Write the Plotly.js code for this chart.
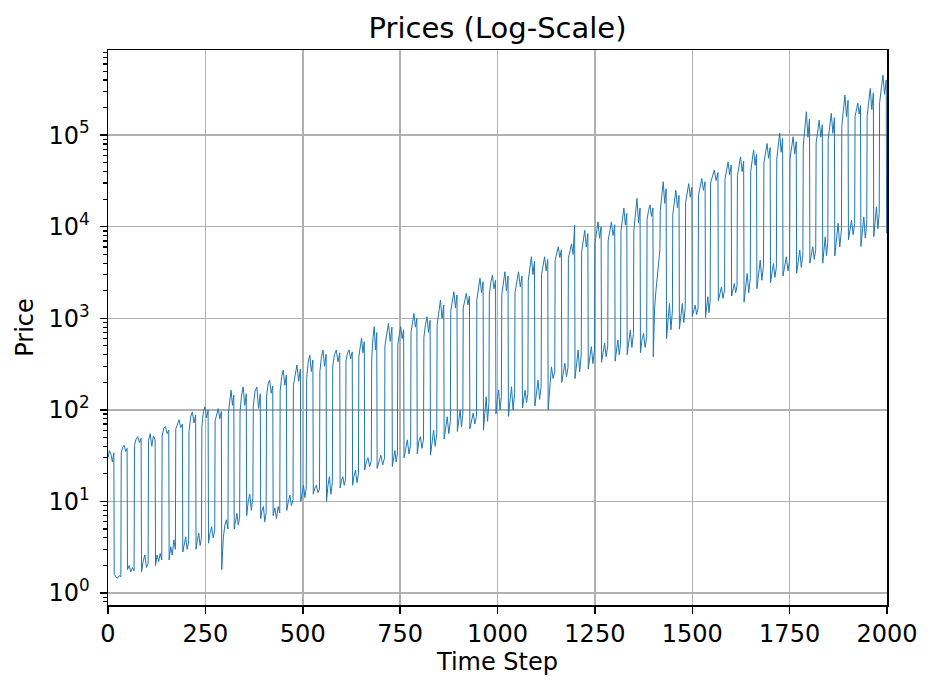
<!DOCTYPE html>
<html>
<head>
<meta charset="utf-8">
<script src="https://cdn.plot.ly/plotly-3.0.1.min.js"></script>
<style>
  html, body { margin: 0; padding: 0; background: #ffffff; }
  #chart { width: 935px; height: 691px; }
</style>
</head>
<body>
<div id="chart"></div>
<script>
// Time steps at which the price jumps into the high regime
const riseStep = [0, 34, 68, 104, 139, 174, 208, 241, 275, 309, 339, 373, 407, 442, 476, 510, 544, 577, 611, 644,
  677, 711, 744, 778, 811, 845, 880, 912, 947, 979, 1011, 1045, 1079, 1113, 1148, 1182, 1216, 1250, 1284, 1317,
  1350, 1384, 1418, 1450, 1483, 1516, 1547, 1584, 1616, 1650, 1684, 1717, 1751, 1785, 1818, 1849, 1884, 1918, 1949, 1981];

// Time steps at which the price falls back into the low regime
const dropStep = [16, 50, 86, 122, 157, 192, 226, 258, 292, 324, 356, 392, 424, 459, 495, 527, 561, 596, 628, 659,
  691, 730, 760, 794, 828, 863, 897, 929, 964, 996, 1028, 1064, 1096, 1130, 1165, 1199, 1233, 1267, 1302, 1333,
  1367, 1400, 1434, 1467, 1500, 1534, 1567, 1601, 1633, 1666, 1701, 1733, 1768, 1802, 1835, 1866, 1901, 1933, 1966, 1999];

// Prices sampled across each high-regime stretch
const highPrice = [
  [30, 36, 33, 27, 34], [34, 39, 41, 35, 38], [41, 48, 51, 44, 49], [46, 55, 40, 52, 47],
  [52, 63, 66, 55, 60], [62, 72, 78, 64, 70], [58, 84, 95, 72, 88], [66, 96, 108, 82, 100],
  [76, 92, 103, 80, 96], [92, 125, 164, 112, 145], [95, 145, 178, 112, 150], [110, 160, 178, 104, 150],
  [140, 192, 212, 152, 182], [160, 232, 271, 185, 240], [185, 252, 309, 205, 280], [220, 330, 398, 262, 350],
  [262, 380, 450, 300, 405], [300, 400, 450, 335, 420], [340, 420, 452, 362, 430], [380, 505, 610, 420, 555],
  [360, 610, 810, 450, 700], [500, 700, 880, 560, 800], [520, 700, 810, 600, 750], [700, 950, 1130, 800, 1000],
  [620, 850, 1040, 700, 950], [850, 1200, 1580, 1000, 1400], [1200, 1600, 1950, 1300, 1800], [1300, 1600, 1870, 1400, 1750],
  [1600, 2200, 2740, 1900, 2500], [1800, 2500, 2960, 2100, 2600], [1800, 2600, 3220, 2000, 2900], [1900, 2600, 3220, 2200, 2900],
  [2600, 3800, 4700, 3000, 4200], [3000, 4000, 4700, 3300, 4400], [4300, 5200, 6040, 4600, 5600], [4500, 5500, 6500, 5000, 10400],
  [5300, 7500, 9150, 6000, 8400], [6500, 9000, 11300, 7500, 10000], [7000, 9500, 11300, 8000, 10500], [9000, 12500, 16000, 10500, 14000],
  [9000, 14000, 20400, 11000, 16000], [12000, 15000, 17300, 13000, 16000], [15000, 22000, 31000, 18000, 26000], [13500, 19000, 25000, 16000, 22000],
  [18500, 24000, 29600, 21000, 27000], [22000, 28000, 33600, 25000, 31000], [30000, 36000, 41500, 32000, 39000], [33000, 42000, 51000, 37000, 47000],
  [36000, 46000, 58000, 40000, 52000], [40000, 55000, 69000, 47000, 62000], [50000, 65000, 81000, 56000, 73000], [55000, 80000, 105000, 65000, 92000],
  [55000, 75000, 96000, 62000, 85000], [76000, 120000, 180000, 95000, 150000], [82000, 110000, 146000, 95000, 130000], [90000, 130000, 173000, 105000, 155000],
  [125000, 200000, 274000, 160000, 240000], [160000, 190000, 223000, 170000, 210000], [160000, 240000, 323000, 190000, 290000], [225000, 330000, 452000, 280000, 400000]
];

// Prices sampled across each low-regime stretch
const lowPrice = [
  [1.6, 1.5, 1.45, 1.55, 1.5], [1.8, 2.0, 1.7, 1.9, 1.75], [1.7, 2.2, 2.6, 1.9, 2.1], [2.0, 2.6, 2.2, 2.7, 2.3],
  [2.3, 3.2, 2.6, 3.8, 3.0], [2.8, 3.5, 4.1, 3.0, 3.6], [3.0, 3.8, 4.5, 3.3, 4.0], [3.5, 4.5, 5.3, 4.0, 4.8],
  [1.8, 4.0, 5.5, 6.3, 5.0], [5.0, 6.5, 7.4, 5.5, 6.8], [7, 10, 12, 8, 11], [6.5, 8, 8.8, 6, 7.5],
  [7, 8.5, 6.5, 8.8, 7.5], [8, 10, 11.7, 9, 10.5], [10, 13, 15, 11, 14], [12, 14, 15, 12.5, 13.5],
  [10, 15, 18.6, 12, 16], [14, 17, 18.6, 15, 17.5], [15, 19, 22, 16, 20], [22, 27, 30, 24, 28],
  [23, 28, 32, 25, 30], [24, 30, 36, 27, 33], [30, 40, 47, 33, 42], [33, 45, 51, 38, 48],
  [32, 48, 60, 40, 55], [48, 65, 84, 55, 75], [58, 80, 100, 65, 90], [62, 80, 92, 70, 85],
  [60, 100, 139, 75, 120], [90, 130, 164, 100, 140], [85, 130, 179, 100, 150], [105, 140, 164, 120, 150],
  [110, 160, 211, 130, 180], [100, 200, 295, 220, 260], [200, 270, 322, 230, 290], [220, 330, 450, 260, 400],
  [280, 400, 490, 320, 450], [330, 450, 534, 380, 500], [340, 470, 580, 400, 520], [400, 600, 743, 480, 680],
  [420, 580, 684, 480, 620], [380, 1300, 2000, 2900, 4200, 5600], [600, 1000, 1450, 750, 1200], [760, 1100, 1450, 900, 1300],
  [1050, 1250, 1390, 1100, 1300], [1020, 1400, 1720, 1150, 1550], [1550, 1900, 2200, 1650, 2050], [1750, 2100, 2400, 1900, 2250],
  [1500, 2300, 3090, 1900, 2700], [2100, 3200, 4320, 2600, 3800], [2450, 3200, 3970, 2800, 3600], [2900, 3800, 4700, 3300, 4300],
  [3100, 4300, 5560, 3600, 5000], [4000, 5000, 6030, 4400, 5600], [4000, 5800, 7760, 4800, 6800], [4800, 7500, 10900, 6000, 9200],
  [7200, 9500, 11800, 8200, 10800], [6100, 9000, 12800, 7500, 11000], [7800, 12000, 16500, 9500, 14000], [8500]
];

// Axis ticks
const stepTicks = [0, 250, 500, 750, 1000, 1250, 1500, 1750, 2000];
const priceTicks = [1, 10, 100, 1000, 10000, 100000];
const priceTickText = ['10<sup>0</sup>', '10<sup>1</sup>', '10<sup>2</sup>', '10<sup>3</sup>', '10<sup>4</sup>', '10<sup>5</sup>'];

// Lay the samples of every stretch out over its steps
const stepX = [];
const priceY = [];
function addStretch(vals, first, last) {
  const n = vals.length;
  vals.forEach((v, i) => {
    stepX.push(n === 1 ? first : first + (last - first) * i / (n - 1));
    priceY.push(v);
  });
}
for (let i = 0; i < riseStep.length; i++) {
  addStretch(highPrice[i], riseStep[i], dropStep[i] - 1);
  const lowEnd = i + 1 < riseStep.length ? riseStep[i + 1] - 1 : dropStep[i];
  addStretch(lowPrice[i], dropStep[i], lowEnd);
}

// Minor ticks on the log axis: 2..9 within each decade
const minorPriceTicks = [];
for (let k = -1; k <= 5; k++) {
  for (let m = 2; m <= 9; m++) minorPriceTicks.push(m * Math.pow(10, k));
}

const trace = {
  x: stepX,
  y: priceY,
  type: 'scatter',
  mode: 'lines',
  line: { color: '#1f77b4', width: 1 },
  hoverinfo: 'x+y'
};

const axisCommon = {
  ticks: 'outside',
  ticklen: 7,
  tickwidth: 1.5,
  tickcolor: '#000000',
  showline: true,
  linecolor: '#000000',
  linewidth: 1.5,
  mirror: true,
  showgrid: true,
  gridcolor: '#b0b0b0',
  gridwidth: 1.5,
  zeroline: false,
  automargin: false,
  tickfont: { family: 'DejaVu Sans', size: 24, color: '#000000' }
};

const layout = {
  width: 935,
  height: 691,
  margin: { l: 108, r: 48, t: 50, b: 86, pad: 0 },
  paper_bgcolor: '#ffffff',
  plot_bgcolor: '#ffffff',
  font: { family: 'DejaVu Sans', size: 24, color: '#000000' },
  showlegend: false,
  title: {
    text: 'Prices (Log-Scale)',
    font: { family: 'DejaVu Sans', size: 29, color: '#000000' },
    x: 0.5, xref: 'paper', xanchor: 'center',
    y: 1 - 28 / 691, yref: 'container', yanchor: 'middle'
  },
  xaxis: Object.assign({}, axisCommon, {
    range: [0, 2000],
    tickmode: 'array',
    tickvals: stepTicks,
    ticktext: stepTicks.map(String),
    title: { text: 'Time Step', font: { family: 'DejaVu Sans', size: 24, color: '#000000' }, standoff: 6 }
  }),
  yaxis: Object.assign({}, axisCommon, {
    type: 'log',
    range: [-0.131, 5.93],
    tickmode: 'array',
    tickvals: priceTicks,
    ticktext: priceTickText,
    ticklabelstandoff: 5,
    minor: {
      tickmode: 'array',
      tickvals: minorPriceTicks,
      ticks: 'outside',
      ticklen: 4,
      tickwidth: 1.2,
      tickcolor: '#000000',
      showgrid: false
    },
    title: { text: 'Price', font: { family: 'DejaVu Sans', size: 24, color: '#000000' }, standoff: 8 }
  })
};

Plotly.newPlot('chart', [trace], layout, { staticPlot: true, displayModeBar: false });
</script>
</body>
</html>
